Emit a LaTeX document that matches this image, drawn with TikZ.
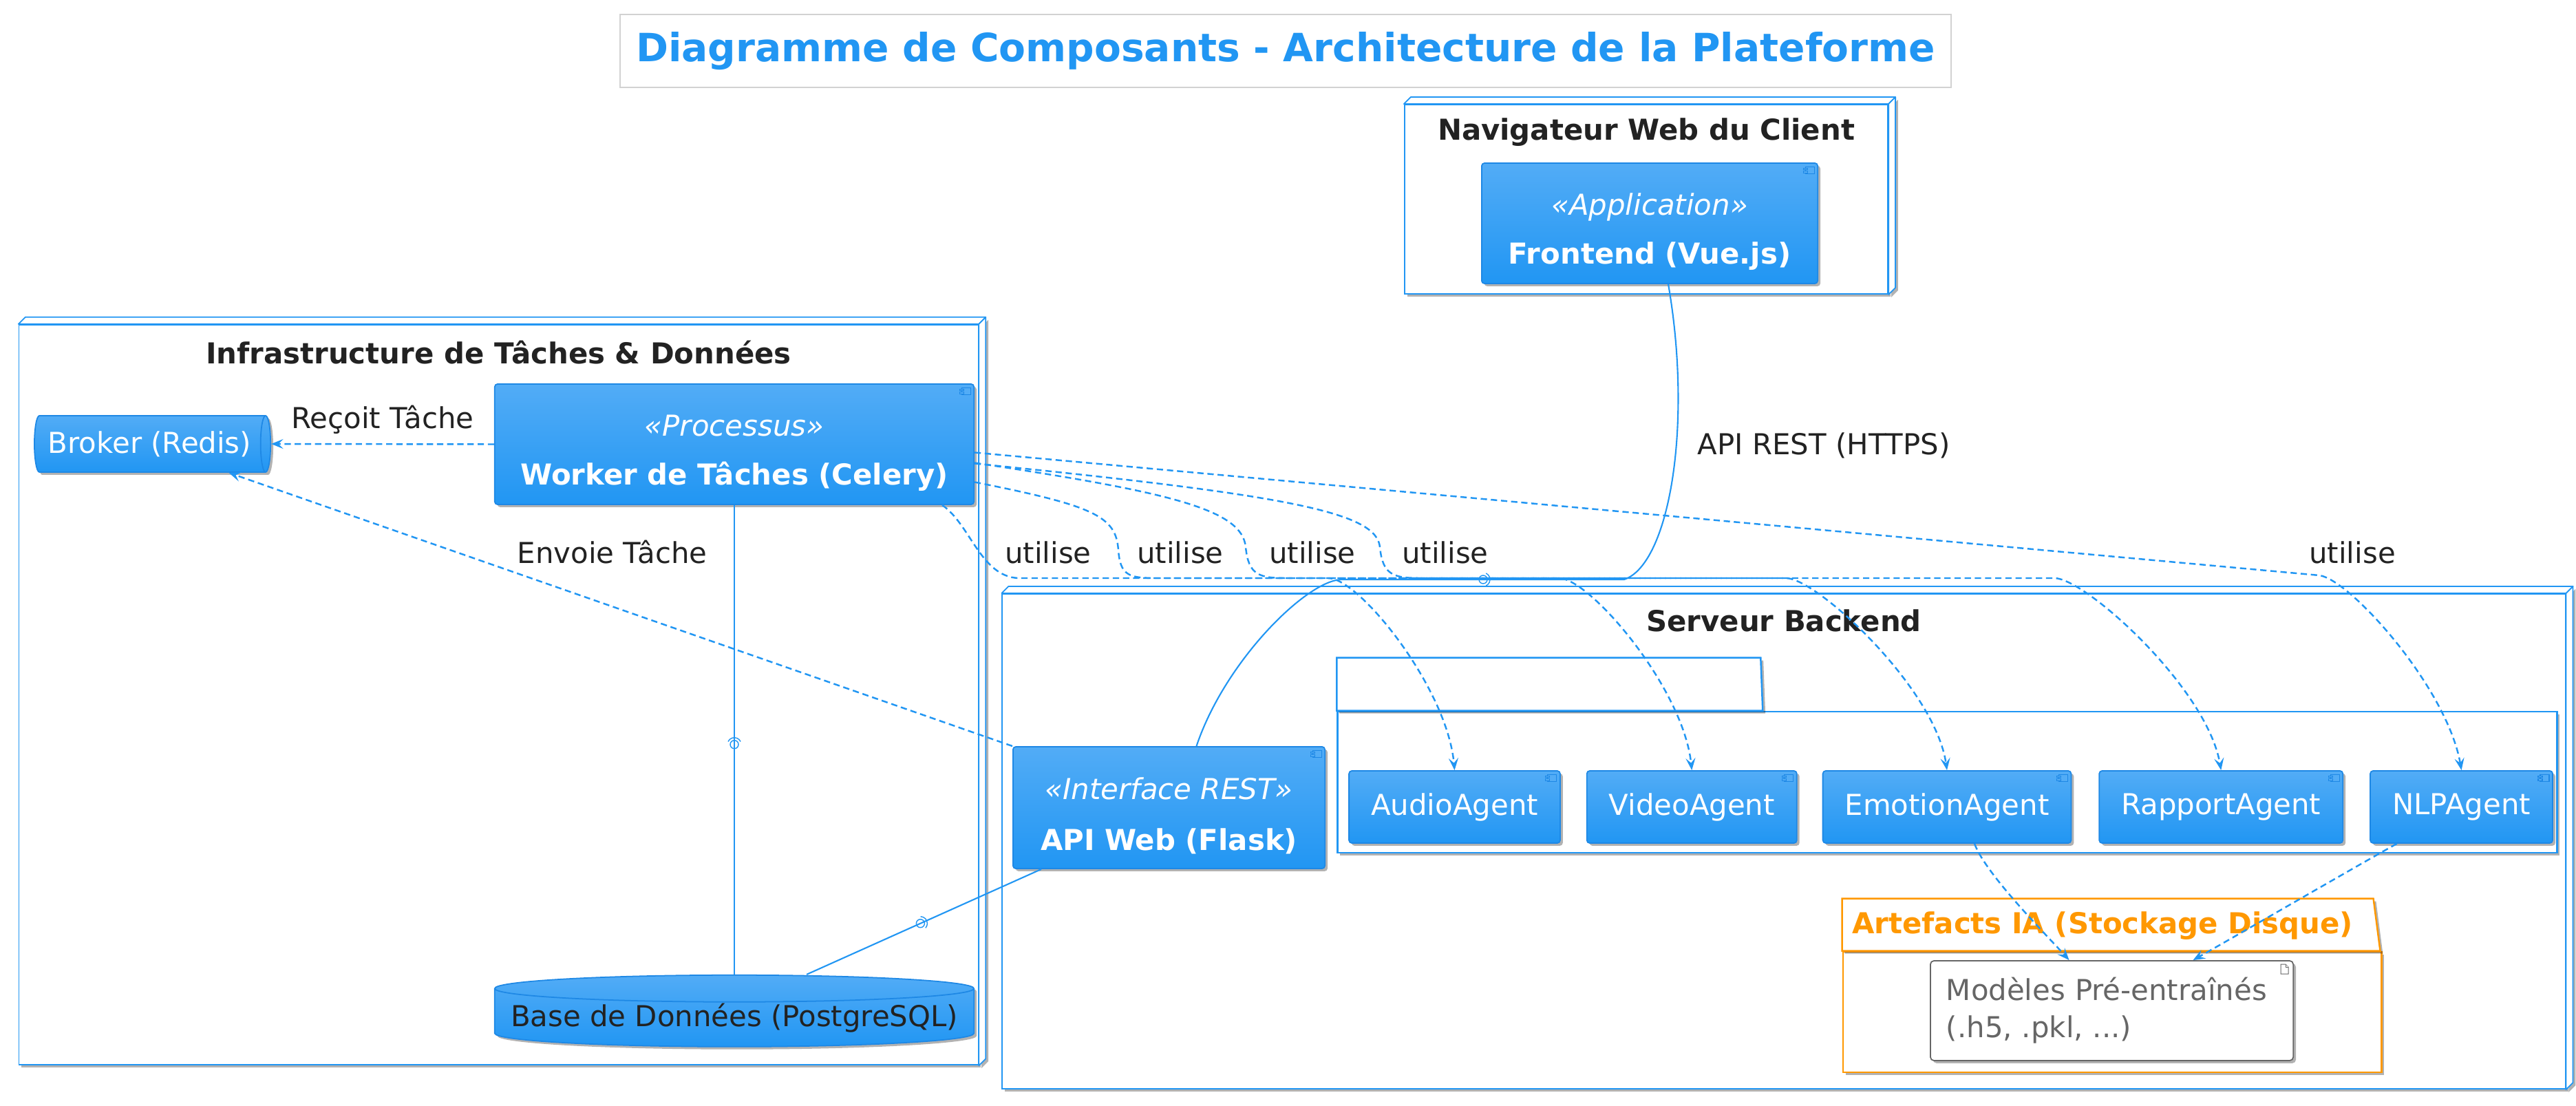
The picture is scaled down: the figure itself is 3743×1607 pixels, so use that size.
\documentclass[tikz,border=0pt]{standalone}
\usepackage{fontspec}
\setmainfont{DejaVu Sans}
\usepackage{tikz}
\usetikzlibrary{shapes.geometric, arrows.meta, positioning, calc, shadows}

\definecolor{umlblue}{RGB}{33,150,243}
\definecolor{umllight}{RGB}{82,172,246}
\definecolor{umledge}{RGB}{30,136,229}
\definecolor{ink}{RGB}{34,34,34}
\definecolor{greytext}{RGB}{102,102,102}
\definecolor{umlorange}{RGB}{255,152,0}
\definecolor{titleframe}{RGB}{210,210,210}

\newcommand{\umlfont}{\fontsize{11.9}{15.4}\selectfont}
\newcommand{\stereo}[1]{\rule{0pt}{15.8pt}\textit{«#1»}}

\tikzstyle{shadowed} = [drop shadow={shadow xshift=1.1pt, shadow yshift=-1.1pt, opacity=0.3, fill=black}]
\tikzstyle{titlebox} = [rectangle, draw=titleframe, line width=0.5pt, fill=white, text=umlblue,
    font=\fontsize{16.1}{19}\selectfont\bfseries, minimum width=19.33cm, minimum height=1.06cm]
\tikzstyle{container} = [rectangle, draw=umlblue, line width=0.5pt, fill=white, shadowed]
\tikzstyle{cubeface} = [draw=umlblue, line width=0.5pt, fill=white, line join=round]
\tikzstyle{conttitle} = [font=\umlfont\bfseries, text=ink, inner sep=0pt]
\tikzstyle{arttitle} = [font=\umlfont\bfseries, text=umlorange, inner sep=0pt]
\tikzstyle{component} = [
    rectangle,
    rounded corners=1.2pt,
    draw=umledge,
    line width=0.5pt,
    top color=umllight,
    bottom color=umlblue,
    text=white,
    font=\umlfont,
    align=center,
    shadowed
]
\tikzstyle{agent} = [component, minimum height=1.05cm, inner xsep=9.1pt]
\tikzstyle{queue} = [cylinder, shape border rotate=0, aspect=0.39, draw=umledge, line width=0.5pt,
    top color=umllight, bottom color=umlblue, text=white, font=\umlfont, shadowed, inner sep=0pt,
    minimum width=0.82cm, minimum height=3.43cm]
\tikzstyle{database} = [cylinder, shape border rotate=90, aspect=0.06, draw=umledge, line width=0.5pt,
    top color=umllight, bottom color=umlblue, text=ink, font=\umlfont, shadowed, inner sep=0pt]
\tikzstyle{package} = [rectangle, draw=umlblue, line width=0.7pt, fill=white, shadowed]
\tikzstyle{folder} = [rectangle, draw=umlorange, line width=0.7pt, fill=white, shadowed]
\tikzstyle{artifact} = [rectangle, rounded corners=1.5pt, draw=greytext, line width=0.5pt, fill=white,
    text=greytext, font=\umlfont, align=left, shadowed]
\tikzstyle{uses} = [draw=umlblue, line width=0.7pt, dash pattern=on 2.6pt off 1.6pt,
    -{Stealth[length=5pt, width=4pt, inset=2pt]}]
\tikzstyle{wire} = [draw=umlblue, line width=0.6pt]
\tikzstyle{sock} = [draw=umlblue, line width=0.4pt]
\tikzstyle{lbl} = [font=\umlfont, text=ink, inner sep=0pt]
\tikzstyle{iconpart} = [draw=umledge, line width=0.3pt, fill=umllight]
\tikzstyle{docpart} = [draw=greytext, line width=0.3pt, fill=white]

% top and side faces of a 3D node
\newcommand{\nodefaces}[1]{%
  \filldraw[cubeface] (#1.north west) -- ++(10,-10) -- ($(#1.north east)+(10,-10)$) -- (#1.north east) -- cycle;
  \filldraw[cubeface, shadowed] (#1.north east) -- ++(10,-10) -- ($(#1.south east)+(10,-10)$) -- (#1.south east) -- cycle;}
% small component glyph in the corner
\newcommand{\compicon}[1]{%
  \filldraw[iconpart] ($(#1.north east)+(-19,6)$) rectangle ++(13,10);
  \filldraw[iconpart] ($(#1.north east)+(-22,8)$) rectangle ++(6,2.5);
  \filldraw[iconpart] ($(#1.north east)+(-22,12.5)$) rectangle ++(6,2.5);}
\newcommand{\docicon}[1]{%
  \draw[docpart] ($(#1.north east)+(-19,6)$) -- ++(7,0) -- ++(4,4) -- ++(0,10) -- ++(-11,0) -- cycle;
  \draw[docpart] ($(#1.north east)+(-12,6)$) -- ++(0,4) -- ++(4,0);}
% ball and socket on a link
\newcommand{\sockmark}[2]{%
  \draw[sock] (#1) circle[radius=6];
  \draw[sock] ($(#1)+({10*cos(#2-65)},{10*sin(#2-65)})$) arc[start angle={#2-65}, end angle={#2+65}, radius=10];}

\begin{document}
\begin{tikzpicture}[x=0.01cm, y=-0.01cm]
    \useasboundingbox (0,0) rectangle (3743,1607);

    \node[titlebox] (title) at (1868,74) {Diagramme de Composants - Architecture de la Plateforme};

    % nodes
    \node[container, minimum width=7.02cm, minimum height=2.75cm] (browser) at (2392,289.5) {};
    \node[container, minimum width=13.93cm, minimum height=10.75cm] (infra) at (724.5,1009.5) {};
    \node[container, minimum width=22.70cm, minimum height=7.19cm] (backend) at (2592,1222.5) {};
    \nodefaces{browser}
    \nodefaces{infra}
    \nodefaces{backend}
    \node[conttitle] (browsertitle) at ($(browser.north)+(0,41)$) {Navigateur Web du Client};
    \node[conttitle] (infratitle) at ($(infra.north)+(0,41)$) {Infrastructure de Tâches \& Données};
    \node[conttitle] (backendtitle) at ($(backend.north)+(0,40)$) {Serveur Backend};

    % packages
    \node[package, minimum width=17.71cm, minimum height=2.05cm] (agentpkg) at (2829.5,1136.5) {};
    \filldraw[package] (agentpkg.north west) -- ++(0,-77) -- ++(616,0) -- ($(agentpkg.north west)+(619,0)$) -- cycle;
    \node[folder, minimum width=7.82cm, minimum height=1.75cm] (artefacts) at (3069,1470.5) {};
    \filldraw[folder] (artefacts.north west) -- ++(0,-76) -- ++(772,0) -- ($(artefacts.north east)+(-3,0)$) -- cycle;
    \node[arttitle, anchor=west] (artefactstitle) at ($(artefacts.north west)+(14,-37)$) {Artefacts IA (Stockage Disque)};

    % components
    \node[component, minimum width=4.88cm, minimum height=1.75cm] (frontend) at (2397,324.5)
        {\stereo{Application}\\[4.8pt]\textbf{Frontend (Vue.js)}};
    \node[component, minimum width=6.96cm, minimum height=1.75cm] (worker) at (1067,645.5)
        {\stereo{Processus}\\[4.8pt]\textbf{Worker de Tâches (Celery)}};
    \node[component, minimum width=4.53cm, minimum height=1.77cm] (api) at (1698.5,1173.5)
        {\stereo{Interface REST}\\[5.5pt]\textbf{API Web (Flask)}};
    \node[queue] (broker) at (217.5,645) {Broker (Redis)};
    \node[database, minimum width=6.96cm, minimum height=1.04cm] (db) at (1067,1479) {Base de Données (PostgreSQL)};

    \node[agent] (audio) at (2113.5,1172.5) {AudioAgent};
    \node[agent, right=0.37cm of audio] (video) {VideoAgent};
    \node[agent, right=0.36cm of video] (emotion) {EmotionAgent};
    \node[agent, right=0.39cm of emotion] (rapport) {RapportAgent};
    \node[agent, right=0.38cm of rapport] (nlp) {NLPAgent};

    \node[artifact, text width=4.81cm, inner xsep=0.23cm, minimum height=1.45cm] (models) at (3068.5,1468.5)
        {Modèles Pré-entraînés\\(.h5, .pkl, ...)};

    \foreach \c in {frontend, worker, api, audio, video, emotion, rapport, nlp} {\compicon{\c}}
    \docicon{models}

    % links
    \draw[wire] ($(frontend.south)+(27,0)$) .. controls (2460,620) and (2425,820) .. (2360,842)
        node[lbl, pos=0.4, anchor=west, xshift=0.3cm] {API REST (HTTPS)}
        -- (1950,842) coordinate[midway] (restsock)
        .. controls (1900,842) and (1780,960) .. ($(api.north)+(40,0)$);
    \draw[wire] (worker.south) -- (db.north) coordinate[pos=0.51] (wdsock);
    \draw[wire] ($(api.south west)+(42,0)$) -- ($(db.north)+(105,0)$) coordinate[pos=0.515] (adsock);
    \sockmark{restsock}{0}
    \sockmark{wdsock}{-90}
    \sockmark{adsock}{-24}

    \draw[uses] (worker.west) -- node[lbl, yshift=0.35cm] {Reçoit Tâche} (broker.east);
    \draw[uses] (api.north west) -- node[lbl, xshift=-0.12cm, yshift=0.83cm] {Envoie Tâche} ($(broker.south)+(115,0)$);

    \draw[uses] ($(worker.south east)+(-47,0)$) .. controls (1410,762) and (1425,838) .. (1480,840)
        node[lbl] at (1523,803) {utilise}
        -- (1930,840) .. controls (1975,840) and (2103,1000) .. (audio.north);
    \draw[uses] ($(worker.east)+(0,55)$) .. controls (1590,735) and (1622,750) .. (1625,800)
        .. controls (1628,836) and (1640,840) .. (1680,840)
        node[lbl] at (1715,803) {utilise}
        -- (2265,840) .. controls (2310,840) and (2446,1000) .. (video.north);
    \draw[uses] ($(worker.east)+(0,27)$) .. controls (1700,715) and (1805,740) .. (1810,795)
        .. controls (1814,836) and (1830,840) .. (1870,840)
        node[lbl] at (1907,803) {utilise}
        -- (2595,840) .. controls (2640,840) and (2812,1000) .. (emotion.north);
    \draw[uses] ($(worker.east)+(0,28)$) .. controls (1880,720) and (2000,745) .. (2005,795)
        .. controls (2009,836) and (2025,840) .. (2065,840)
        node[lbl] at (2100,803) {utilise}
        -- (2985,840) .. controls (3030,840) and (3207,1000) .. (rapport.north);
    \draw[uses] ($(worker.east)+(0,12)$) -- (3370,836)
        node[lbl] at (3418,803) {utilise}
        .. controls (3415,842) and (3556,1000) .. (nlp.north);

    \draw[uses] ($(emotion.south)+(40,0)$) .. controls (2885,1270) and (2975,1360) .. ($(models.north)+(-62,0)$);
    \draw[uses] ($(nlp.south)+(-94,0)$) .. controls (3430,1255) and (3240,1365) .. ($(models.north)+(118,0)$);
\end{tikzpicture}
\end{document}
